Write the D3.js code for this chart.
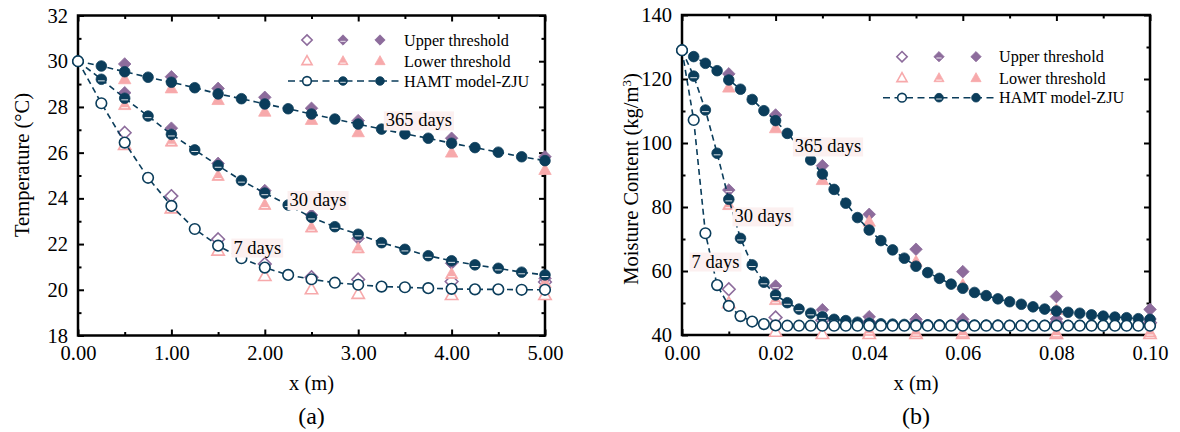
<!DOCTYPE html>
<html>
<head>
<meta charset="utf-8">
<script src="https://cdn.jsdelivr.net/npm/d3@7"></script>
<style>
  body { margin: 0; background: #fff; }
  svg, svg text { font-family: "Liberation Serif", "Times New Roman", Times, Tinos, "DejaVu Serif", serif; }
  svg { display: block; }
</style>
</head>
<body>
<svg id="chart" width="1180" height="432"></svg>
<script>
// ---------- (a) temperature profiles ----------
const tempX = [0, 0.25, 0.5, 0.75, 1, 1.25, 1.5, 1.75, 2, 2.25, 2.5, 2.75, 3, 3.25, 3.5, 3.75, 4, 4.25, 4.5, 4.75, 5];
const temp7 = [30, 28.16, 26.44, 24.9, 23.67, 22.66, 21.93, 21.38, 20.97, 20.65, 20.46, 20.31, 20.22, 20.14, 20.11, 20.07, 20.04, 20.02, 20.02, 20.0, 20.0];
const temp30 = [30, 29.21, 28.38, 27.6, 26.8, 26.12, 25.43, 24.78, 24.23, 23.71, 23.17, 22.76, 22.43, 22.06, 21.77, 21.49, 21.27, 21.09, 20.94, 20.77, 20.65];
const temp365 = [30, 29.79, 29.54, 29.3, 29.08, 28.84, 28.57, 28.36, 28.13, 27.92, 27.69, 27.47, 27.25, 27.03, 26.82, 26.63, 26.41, 26.22, 26.02, 25.82, 25.65];

const tempThrX = [0.5, 1, 1.5, 2, 2.5, 3, 4, 5];
const tempUp7 = [26.87, 24.1, 22.21, 21.13, 20.55, 20.45, 20.36, 20.34];
const tempLo7 = [26.33, 23.56, 21.71, 20.6, 20.02, 19.82, 19.77, 19.77];
const tempUp30 = [28.62, 27.07, 25.53, 24.34, 23.27, 22.25, 21.16, 20.5];
const tempLo30 = [28.08, 26.48, 24.98, 23.71, 22.72, 21.81, 20.69, 20.3];
const tempUp365 = [29.88, 29.32, 28.81, 28.42, 27.94, 27.4, 26.63, 25.82];
const tempLo365 = [29.21, 28.81, 28.3, 27.79, 27.43, 26.89, 26.0, 25.24];

const tempXMajor = [0, 1, 2, 3, 4, 5];
const tempXMinor = [0.5, 1.5, 2.5, 3.5, 4.5];
const tempYMajor = [18, 20, 22, 24, 26, 28, 30, 32];
const tempYMinor = [19, 21, 23, 25, 27, 29, 31];

// ---------- (b) moisture content profiles ----------
const moistX = [0, 0.0025, 0.005, 0.0075, 0.01, 0.0125, 0.015, 0.0175, 0.02, 0.0225,
  0.025, 0.0275, 0.03, 0.0325, 0.035, 0.0375, 0.04, 0.0425, 0.045, 0.0475,
  0.05, 0.0525, 0.055, 0.0575, 0.06, 0.0625, 0.065, 0.0675, 0.07, 0.0725,
  0.075, 0.0775, 0.08, 0.0825, 0.085, 0.0875, 0.09, 0.0925, 0.095, 0.0975, 0.1];
const moist7 = [129.0, 107.2, 71.8, 55.6, 49.1, 45.9, 44.2, 43.4, 43.0, 42.9,
  42.9, 42.9, 42.9, 42.9, 42.9, 42.9, 42.9, 42.9, 42.9, 42.9,
  42.9, 42.9, 42.9, 42.9, 42.9, 42.9, 42.9, 42.9, 42.9, 42.9,
  42.9, 42.9, 42.9, 42.9, 42.9, 42.9, 42.9, 42.9, 42.9, 42.9, 42.9];
const moist30 = [129.0, 120.9, 110.3, 96.8, 82.4, 70.2, 61.9, 56.5, 52.5, 50.1,
  48.1, 46.8, 45.7, 44.9, 44.5, 44.0, 43.7, 43.5, 43.4, 43.3,
  43.2, 43.2, 43.2, 43.1, 43.1, 43.1, 43.1, 43.1, 43.0, 43.0,
  43.0, 43.0, 43.0, 43.0, 43.0, 43.0, 43.0, 43.0, 43.0, 43.0, 43.0];
const moist365 = [129.0, 127.0, 124.9, 122.6, 119.7, 116.8, 113.6, 110.1, 107.0, 103.0,
  99.0, 94.7, 90.3, 85.5, 81.2, 76.7, 72.8, 69.5, 66.6, 64.0,
  61.5, 59.5, 57.7, 55.9, 54.6, 53.3, 52.3, 51.3, 50.4, 49.6,
  48.8, 48.1, 47.5, 47.1, 46.8, 46.3, 45.9, 45.6, 45.4, 45.1, 44.9];

const moistThrX = [0.01, 0.02, 0.03, 0.04, 0.05, 0.06, 0.08, 0.1];
const moistUp7 = [54.3, 45.5, 44.6, 44.0, 43.8, 43.8, 43.8, 43.8];
const moistLo7 = [49.9, 41.0, 40.3, 40.3, 40.3, 40.3, 40.3, 40.3];
const moistUp30 = [85.3, 55.3, 47.9, 45.7, 44.9, 44.9, 45.0, 45.0];
const moistLo30 = [80.6, 50.9, 43.5, 41.2, 40.8, 40.6, 40.6, 40.8];
const moistUp365 = [121.6, 108.75, 92.9, 77.7, 66.8, 59.8, 52.0, 48.0];
const moistLo365 = [117.3, 104.6, 88.4, 75.4, 62.9, 55.6, 47.8, 44.5];

const moistXMajor = [0, 0.02, 0.04, 0.06, 0.08, 0.1];
const moistXMinor = [0.01, 0.03, 0.05, 0.07, 0.09];
const moistYMajor = [40, 60, 80, 100, 120, 140];
const moistYMinor = [50, 70, 90, 110, 130];

const legendLabels = ["Upper threshold", "Lower threshold", "HAMT model-ZJU"];
const dayLabels = ["7 days", "30 days", "365 days"];

// ---------- styling ----------
const FONT = "'Liberation Serif', 'Times New Roman', Times, Tinos, 'DejaVu Serif', serif";
const C_MODEL = "#0b3d5b";
const C_UP = "#8d6c9c";
const C_LO = "#f7a9ab";
const svg = d3.select("#chart");

function marker(g, shape, kind, color, px, py, k = 1) {
  const m = g.append("g").attr("transform", `translate(${px},${py})`);
  let el;
  if (shape === "circle") {
    el = m.append("circle").attr("r", 5.3 * k);
  } else if (shape === "diamond") {
    const d = 6.3 * k;
    el = m.append("path").attr("d", `M0,${-d}L${d},0L0,${d}L${-d},0Z`);
  } else {
    const s = 6.2 * k;
    el = m.append("path").attr("d", `M0,${-s * 1.05}L${s},${s * 0.72}L${-s},${s * 0.72}Z`);
  }
  if (kind === "open") {
    el.attr("fill", "#fff").attr("stroke", color).attr("stroke-width", 1.6);
  } else {
    el.attr("fill", color).attr("stroke", color).attr("stroke-width", 0.8);
  }
  if (kind === "split") {
    const w = (shape === "diamond" ? 3.2 : 3.4) * k;
    const yy = (shape === "triangle" ? 2.6 : 1.6) * k;
    m.append("line").attr("x1", -w).attr("x2", w).attr("y1", yy).attr("y2", yy)
      .attr("stroke", "#fff").attr("stroke-width", 1).attr("opacity", 0.85);
  }
}

function panel(cfg) {
  const { x, y } = cfg;
  const g = svg.append("g").attr("font-family", FONT);
  const [x0, x1] = x.range();
  const [y0, y1] = y.range();

  // tick marks on all four sides, pointing inward
  const styleAxis = a => {
    a.attr("font-family", FONT).attr("font-size", 20.5);
    a.select(".domain").remove();
    a.selectAll(".tick line").attr("stroke", "#000").attr("stroke-width", 2);
    a.selectAll("text").attr("fill", "#000");
  };
  g.append("g").attr("transform", `translate(0,${y0})`)
    .call(d3.axisBottom(x).tickValues(cfg.xMajor).tickSize(-6).tickPadding(10).tickFormat(d3.format(".2f")))
    .call(styleAxis);
  g.append("g").attr("transform", `translate(0,${y0})`)
    .call(d3.axisBottom(x).tickValues(cfg.xMinor).tickSize(-3.5).tickFormat(""))
    .call(styleAxis);
  g.append("g").attr("transform", `translate(0,${y1})`)
    .call(d3.axisTop(x).tickValues(cfg.xMajor).tickSize(-6).tickFormat(""))
    .call(styleAxis);
  g.append("g").attr("transform", `translate(0,${y1})`)
    .call(d3.axisTop(x).tickValues(cfg.xMinor).tickSize(-3.5).tickFormat(""))
    .call(styleAxis);
  g.append("g").attr("transform", `translate(${x0},0)`)
    .call(d3.axisLeft(y).tickValues(cfg.yMajor).tickSize(-6).tickPadding(10).tickFormat(d3.format("d")))
    .call(styleAxis);
  g.append("g").attr("transform", `translate(${x0},0)`)
    .call(d3.axisLeft(y).tickValues(cfg.yMinor).tickSize(-3.5).tickFormat(""))
    .call(styleAxis);
  g.append("g").attr("transform", `translate(${x1},0)`)
    .call(d3.axisRight(y).tickValues(cfg.yMajor).tickSize(-6).tickFormat(""))
    .call(styleAxis);
  g.append("g").attr("transform", `translate(${x1},0)`)
    .call(d3.axisRight(y).tickValues(cfg.yMinor).tickSize(-3.5).tickFormat(""))
    .call(styleAxis);

  // frame
  g.append("rect").attr("x", x0).attr("y", y1).attr("width", x1 - x0).attr("height", y0 - y1)
    .attr("fill", "none").attr("stroke", "#000").attr("stroke-width", 2.5);

  // threshold markers
  const kinds = ["open", "split", "solid"];
  cfg.thr.forEach((t, i) => {
    t.up.forEach((v, j) => marker(g, "diamond", kinds[i], C_UP, x(cfg.thrX[j]), y(v)));
    t.lo.forEach((v, j) => marker(g, "triangle", kinds[i], C_LO, x(cfg.thrX[j]), y(v)));
  });

  // model curves: dashed lines first, then markers (7 days on top)
  const line = d3.line().x((d, i) => x(cfg.modelX[i])).y(d => y(d));
  const order = [2, 1, 0];
  order.forEach(i => {
    g.append("path").attr("d", line(cfg.model[i])).attr("fill", "none")
      .attr("stroke", C_MODEL).attr("stroke-width", 1.6).attr("stroke-dasharray", "6,4");
  });
  order.forEach(i => {
    cfg.model[i].forEach((v, j) => marker(g, "circle", kinds[i], C_MODEL, x(cfg.modelX[j]), y(v)));
  });

  // day annotations with light backdrop
  cfg.notes.forEach(n => {
    const t = g.append("text").attr("x", x(n.x)).attr("y", y(n.y)).attr("dy", "0.35em")
      .attr("text-anchor", "middle").attr("font-size", 18.5).attr("fill", "#000").text(n.label);
    const b = t.node().getBBox();
    g.insert("rect", () => t.node()).attr("x", b.x - 2).attr("y", b.y + 1)
      .attr("width", b.width + 4).attr("height", b.height - 1).attr("fill", "#fcf0f0");
  });

  // legend
  const L = cfg.legend;
  const lg = g.append("g");
  lg.append("line").attr("x1", L.lineX0).attr("x2", L.lineX1).attr("y1", L.rows[2]).attr("y2", L.rows[2])
    .attr("stroke", C_MODEL).attr("stroke-width", 1.6).attr("stroke-dasharray", "7,4.5");
  const shapes = [["diamond", C_UP], ["triangle", C_LO], ["circle", C_MODEL]];
  shapes.forEach(([shape, color], r) => {
    L.cols.forEach((cx, c) => marker(lg, shape, kinds[c], color, cx, L.rows[r], 0.82));
    lg.append("text").attr("x", L.textX).attr("y", L.rows[r]).attr("dy", "0.35em")
      .attr("font-size", 16.2).attr("fill", "#000").text(legendLabels[r]);
  });

  // axis titles
  const mid = (x0 + x1) / 2;
  g.append("text").attr("x", mid).attr("y", 390).attr("text-anchor", "middle")
    .attr("font-size", 20.5).text("x (m)");
  g.append("text").attr("x", mid).attr("y", 424).attr("text-anchor", "middle")
    .attr("font-size", 24).text(cfg.tag);
  const yt = g.append("text").attr("transform", `translate(${cfg.yTitleX},${cfg.yTitleY}) rotate(-90)`)
    .attr("text-anchor", "middle").attr("font-size", 20.5);
  cfg.yTitle(yt);
}

// (a)
panel({
  x: d3.scaleLinear().domain([0, 5]).range([78, 545]),
  y: d3.scaleLinear().domain([18, 32]).range([335.5, 15.5]),
  xMajor: tempXMajor, xMinor: tempXMinor, yMajor: tempYMajor, yMinor: tempYMinor,
  thrX: tempThrX,
  thr: [{ up: tempUp7, lo: tempLo7 }, { up: tempUp30, lo: tempLo30 }, { up: tempUp365, lo: tempLo365 }],
  modelX: tempX,
  model: [temp7, temp30, temp365],
  notes: [
    { label: dayLabels[2], x: 3.65, y: 27.43 },
    { label: dayLabels[1], x: 2.57, y: 23.95 },
    { label: dayLabels[0], x: 1.92, y: 21.87 }
  ],
  legend: { rows: [40, 61, 81], cols: [307, 343, 380], textX: 404, lineX0: 288, lineX1: 401 },
  tag: "(a)",
  yTitleX: 29, yTitleY: 165,
  yTitle: t => t.text("Temperature (°C)")
});

// (b)
panel({
  x: d3.scaleLinear().domain([0, 0.1]).range([682, 1150]),
  y: d3.scaleLinear().domain([40, 140]).range([335, 15]),
  xMajor: moistXMajor, xMinor: moistXMinor, yMajor: moistYMajor, yMinor: moistYMinor,
  thrX: moistThrX,
  thr: [{ up: moistUp7, lo: moistLo7 }, { up: moistUp30, lo: moistLo30 }, { up: moistUp365, lo: moistLo365 }],
  modelX: moistX,
  model: [moist7, moist30, moist365],
  notes: [
    { label: dayLabels[2], x: 0.0312, y: 99.06 },
    { label: dayLabels[1], x: 0.0173, y: 77.2 },
    { label: dayLabels[0], x: 0.00716, y: 63.1 }
  ],
  legend: { rows: [56.7, 78, 97.7], cols: [902, 939, 976], textX: 999, lineX0: 883, lineX1: 996 },
  tag: "(b)",
  yTitleX: 638, yTitleY: 179,
  yTitle: t => {
    t.append("tspan").text("Moisture Content (kg/m");
    t.append("tspan").attr("baseline-shift", "super").attr("font-size", 13).text("3");
    t.append("tspan").text(")");
  }
});
</script>
</body>
</html>
